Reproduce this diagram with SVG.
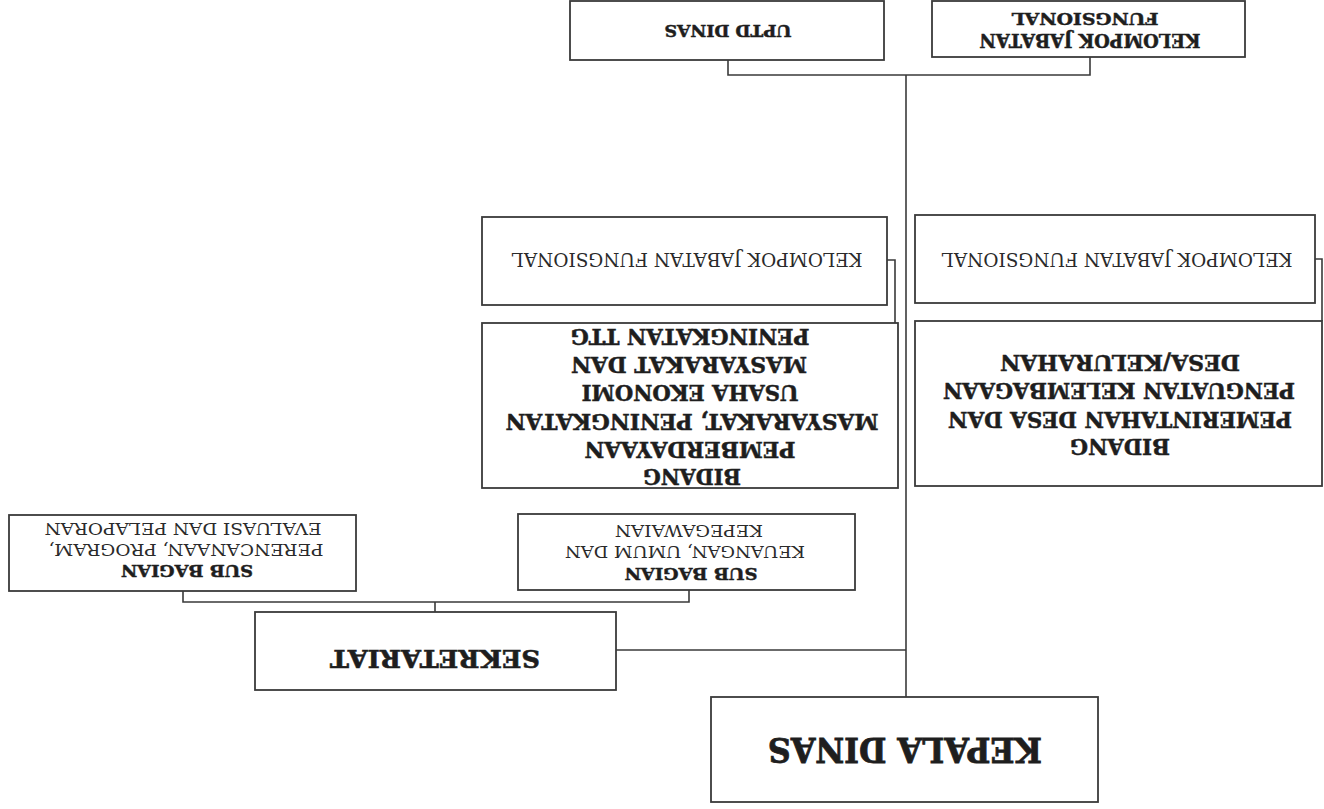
<svg xmlns="http://www.w3.org/2000/svg" width="1324" height="809" viewBox="0 0 1324 809">
<style>
.box{fill:#fff;stroke:#3a3a3a;stroke-width:1.8}
.ln{fill:none;stroke:#3a3a3a;stroke-width:1.6}
.b{font-family:"DejaVu Serif","Liberation Serif",serif;font-weight:bold;fill:#1e1e1e;stroke:#1e1e1e;stroke-width:0.5;text-anchor:middle}
.r{font-family:"DejaVu Serif","Liberation Serif",serif;font-weight:normal;fill:#2a2a2a;text-anchor:middle}
</style>
<rect width="1324" height="809" fill="#fff"/>
<g id="connectors">
<path class="ln" d="M906 75 V697"/>
<path class="ln" d="M728 60 V75 H1090 V57"/>
<path class="ln" d="M887 260 H895 V323"/>
<path class="ln" d="M1315 259 H1322 V321"/>
<path class="ln" d="M616 650 H906"/>
<path class="ln" d="M183 591 V602 H689 V590"/>
<path class="ln" d="M435 602 V612"/>
</g>
<g id="kepala-dinas">
<rect class="box" x="711" y="697" width="387" height="105"/>
<text class="b" x="905" y="762" font-size="33" style="stroke-width:0.8" textLength="274" lengthAdjust="spacingAndGlyphs" transform="rotate(180 905 750)">KEPALA DINAS</text>
</g>
<g id="sekretariat">
<rect class="box" x="255" y="612" width="361" height="78"/>
<text class="b" x="435" y="668" font-size="24.5" style="stroke-width:0.6" textLength="210" lengthAdjust="spacingAndGlyphs" transform="rotate(180 435 659)">SEKRETARIAT</text>
</g>
<g id="subbag-keuangan">
<rect class="box" x="518" y="514" width="337" height="76"/>
<text class="r" x="689" y="537.2" font-size="17" textLength="148" lengthAdjust="spacingAndGlyphs" transform="rotate(180 689 531)">KEPEGAWAIAN</text>
<text class="r" x="685" y="558.2" font-size="17" textLength="240" lengthAdjust="spacingAndGlyphs" transform="rotate(180 685 552)">KEUANGAN, UMUM DAN</text>
<text class="b" x="691" y="580.2" font-size="17" textLength="133" lengthAdjust="spacingAndGlyphs" transform="rotate(180 691 574)">SUB BAGIAN</text>
</g>
<g id="subbag-perencanaan">
<rect class="box" x="9" y="515" width="347" height="76"/>
<text class="r" x="183" y="535.2" font-size="17" textLength="277" lengthAdjust="spacingAndGlyphs" transform="rotate(180 183 529)">EVALUASI DAN PELAPORAN</text>
<text class="r" x="186" y="556.2" font-size="17" textLength="275" lengthAdjust="spacingAndGlyphs" transform="rotate(180 186 550)">PERENCANAAN, PROGRAM,</text>
<text class="b" x="187" y="577.2" font-size="17" textLength="132" lengthAdjust="spacingAndGlyphs" transform="rotate(180 187 571)">SUB BAGIAN</text>
</g>
<g id="bidang-pemerintahan">
<rect class="box" x="915" y="321" width="407" height="165"/>
<text class="b" x="1120" y="370.3" font-size="21.5" textLength="240" lengthAdjust="spacingAndGlyphs" transform="rotate(180 1120 362.5)">DESA/KELURAHAN</text>
<text class="b" x="1119" y="398.8" font-size="21.5" textLength="352" lengthAdjust="spacingAndGlyphs" transform="rotate(180 1119 391)">PENGUATAN KELEMBAGAAN</text>
<text class="b" x="1120" y="427.3" font-size="21.5" textLength="344" lengthAdjust="spacingAndGlyphs" transform="rotate(180 1120 419.5)">PEMERINTAHAN DESA DAN</text>
<text class="b" x="1120" y="454.8" font-size="21.5" textLength="100" lengthAdjust="spacingAndGlyphs" transform="rotate(180 1120 447)">BIDANG</text>
</g>
<g id="bidang-pemberdayaan">
<rect class="box" x="482" y="323" width="416" height="165"/>
<text class="b" x="690" y="344.8" font-size="21.5" textLength="239" lengthAdjust="spacingAndGlyphs" transform="rotate(180 690 337)">PENINGKATAN TTG</text>
<text class="b" x="689" y="372.8" font-size="21.5" textLength="236" lengthAdjust="spacingAndGlyphs" transform="rotate(180 689 365)">MASYARAKAT DAN</text>
<text class="b" x="690" y="400.8" font-size="21.5" textLength="217" lengthAdjust="spacingAndGlyphs" transform="rotate(180 690 393)">USAHA EKONOMI</text>
<text class="b" x="692" y="429.8" font-size="21.5" textLength="373" lengthAdjust="spacingAndGlyphs" transform="rotate(180 692 422)">MASYARAKAT, PENINGKATAN</text>
<text class="b" x="690" y="457.8" font-size="21.5" textLength="211" lengthAdjust="spacingAndGlyphs" transform="rotate(180 690 450)">PEMBERDAYAAN</text>
<text class="b" x="692" y="484.8" font-size="21.5" textLength="98" lengthAdjust="spacingAndGlyphs" transform="rotate(180 692 477)">BIDANG</text>
</g>
<g id="jf-pemberdayaan">
<rect class="box" x="482" y="217" width="405" height="88"/>
<text class="r" x="687" y="266.7" font-size="18.5" textLength="351" lengthAdjust="spacingAndGlyphs" transform="rotate(180 687 260)">KELOMPOK JABATAN FUNGSIONAL</text>
</g>
<g id="jf-pemerintahan">
<rect class="box" x="915" y="215" width="400" height="88"/>
<text class="r" x="1117" y="266.7" font-size="18.5" textLength="351" lengthAdjust="spacingAndGlyphs" transform="rotate(180 1117 260)">KELOMPOK JABATAN FUNGSIONAL</text>
</g>
<g id="uptd-dinas">
<rect class="box" x="570" y="1" width="314" height="59"/>
<text class="b" x="728" y="37.2" font-size="17" textLength="127" lengthAdjust="spacingAndGlyphs" transform="rotate(180 728 31)">UPTD DINAS</text>
</g>
<g id="jf-top">
<rect class="box" x="932" y="1" width="313" height="56"/>
<text class="b" x="1090" y="46.5" font-size="18" textLength="221" lengthAdjust="spacingAndGlyphs" transform="rotate(180 1090 40)">KELOMPOK JABATAN</text>
<text class="b" x="1085" y="25.2" font-size="17" textLength="147" lengthAdjust="spacingAndGlyphs" transform="rotate(180 1085 19)">FUNGSIONAL</text>
</g>
</svg>
